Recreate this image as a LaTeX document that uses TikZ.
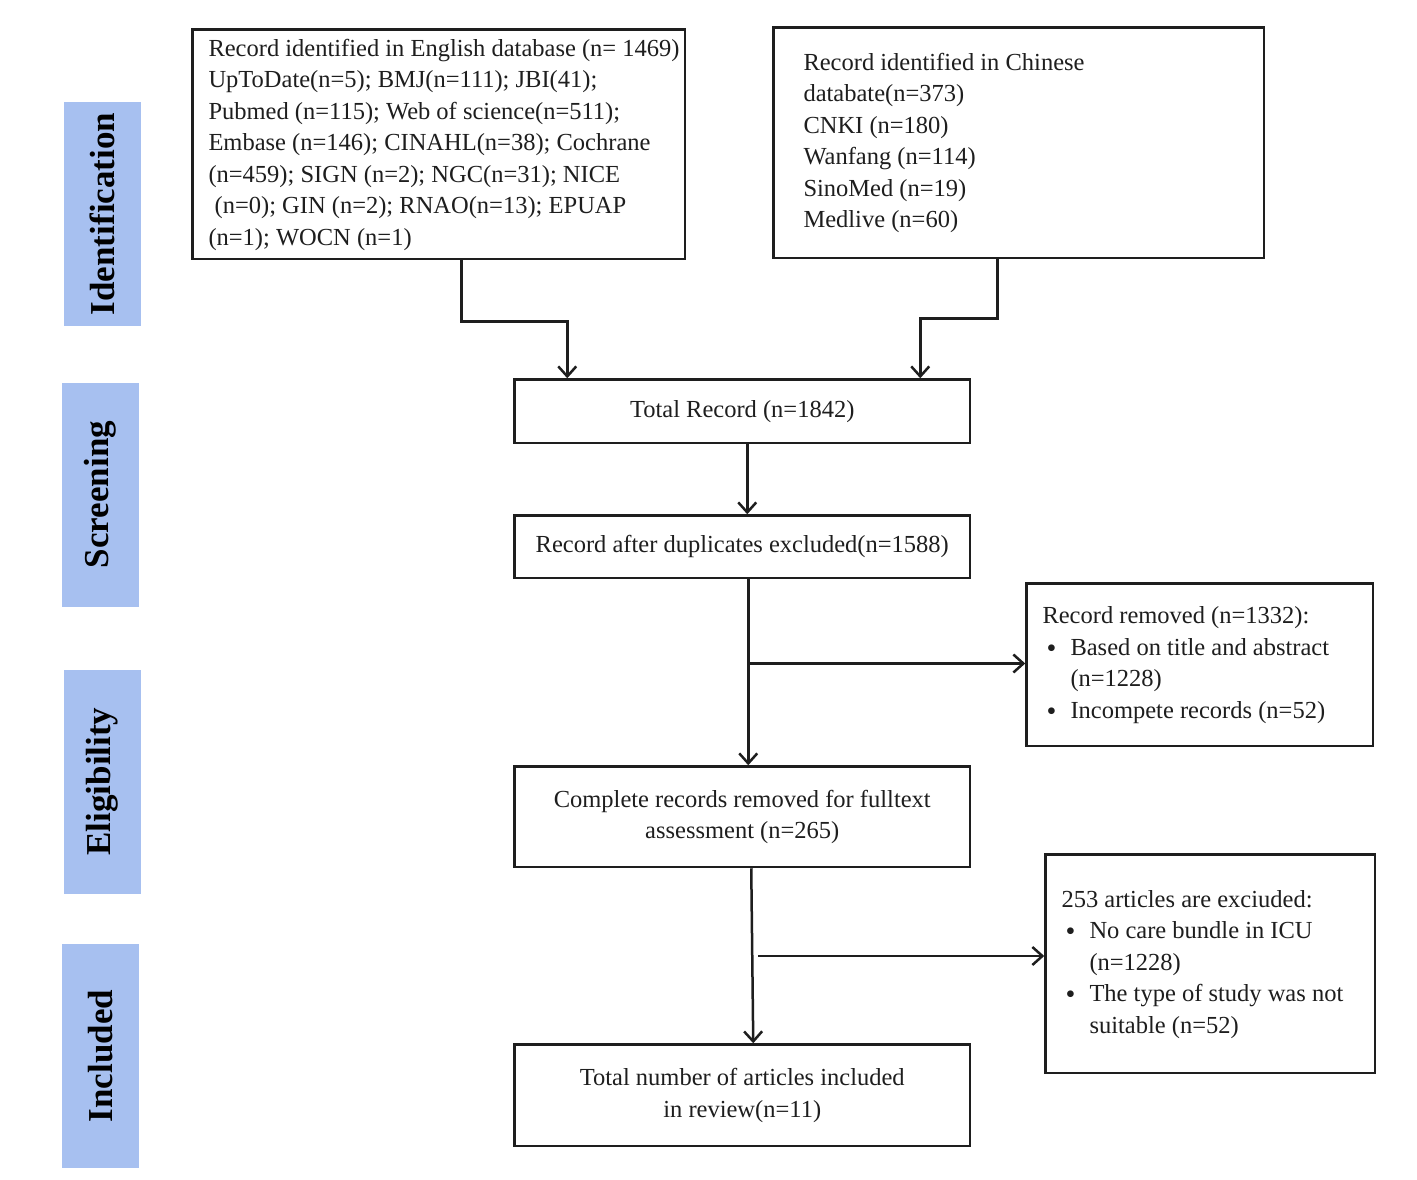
\documentclass[tikz,border=0pt]{standalone}
\usepackage{fontspec}
\setmainfont{Liberation Serif}
\usetikzlibrary{arrows.meta}
\newcommand\fs{\fontsize{24.5}{31.5}\selectfont}
\newcommand\lbox[2]{\makebox[#1][l]{\begin{tabular}{@{}l@{}}#2\end{tabular}}}
\newcommand\bul{\hspace*{4pt}\makebox[24pt][l]{\raisebox{-2pt}{\fontsize{28}{28}\selectfont\textbullet}}}
\newcommand\ind{\hspace*{28pt}}
\definecolor{sideblue}{RGB}{167,192,240}
\definecolor{ink}{RGB}{30,30,30}
\begin{document}
\begin{tikzpicture}[x=1pt,y=-1pt,
  box/.style={draw=ink, line width=2.5pt, fill=white, inner ysep=0pt, inner xsep=16pt,
    anchor=north west, font=\fs, text=ink},
  cbox/.style={box, align=center, minimum width=455.5pt},
  side/.style={fill=sideblue, rotate=90, minimum width=224pt, minimum height=77pt,
    inner sep=0pt, font=\fontsize{35}{40}\selectfont\bfseries, text=black},
  arr/.style={draw=ink, line width=2.5pt, -{Straight Barb[length=10pt,width=18pt,line width=2.5pt]}}]
\useasboundingbox (0,0) rectangle (1417,1180);
\fill[white] (0,0) rectangle (1417,1180);

% side labels
\node[side] (sid) at (102.5,214) {Identification};
\node[side] (sscr) at (100.5,494.5) {Screening};
\node[side] (selig) at (102.5,781.5) {Eligibility};
\node[side] (sinc) at (100.5,1056) {Included};

% boxes
\node[box, minimum width=492.5pt, minimum height=229.5pt] (eng) at (191.25,28.25) {\lbox{460.5pt}{%
Record identified in English database (n= 1469)\\
UpToDate(n=5); BMJ(n=111); JBI(41);\\
Pubmed (n=115); Web of science(n=511);\\
Embase (n=146); CINAHL(n=38); Cochrane\\
(n=459); SIGN (n=2); NGC(n=31); NICE\\
\ (n=0); GIN (n=2); RNAO(n=13); EPUAP\\
(n=1); WOCN (n=1)}};

\node[box, inner xsep=30pt, minimum width=490.5pt, minimum height=230.5pt] (chi) at (772.25,26.25) {\lbox{430.5pt}{%
Record identified in Chinese\\
databate(n=373)\\
CNKI (n=180)\\
Wanfang (n=114)\\
SinoMed (n=19)\\
Medlive (n=60)}};

\node[cbox, minimum height=63.5pt] (tot) at (513.25,378.25) {Total Record (n=1842)};
\node[cbox, minimum height=62.5pt] (dup) at (513.25,514.25) {Record after duplicates excluded(n=1588)};

\node[box, minimum width=346.5pt, minimum height=162.5pt] (rem) at (1025.25,582.25) {\lbox{314.5pt}{%
Record removed (n=1332):\\
\bul Based on title and abstract\\
\ind (n=1228)\\
\bul Incompete records (n=52)}};

\node[cbox, minimum height=100.5pt] (comp) at (513.25,765.25) {Complete records removed for fulltext\\ assessment (n=265)};

\node[box, minimum width=329.5pt, minimum height=218.5pt] (exc) at (1044.25,853.25) {\lbox{297.5pt}{%
253 articles are exciuded:\\
\bul No care bundle in ICU\\
\ind (n=1228)\\
\bul The type of study was not\\
\ind suitable (n=52)}};

\node[cbox, minimum height=101.5pt] (inc) at (513.25,1043.25) {Total number of articles included\\ in review(n=11)};

% connectors
\draw[arr] ([xshift=22.5pt]eng.south) -- ++(0,61) -| ([xshift=-175pt]tot.north);
\draw[arr] ([xshift=-21.5pt]chi.south) -- ++(0,59) -| ([xshift=178pt]tot.north);
\draw[arr] ([xshift=5pt]tot.south) -- ([xshift=5pt]dup.north);
\draw[arr] ([xshift=6pt]dup.south) -- ([xshift=6pt]comp.north);
\coordinate (b1) at (747,663.5);
\draw[arr] (b1) -- (b1 -| rem.west);
\draw[arr] ([xshift=9pt]comp.south) -- ([xshift=11pt]inc.north);
\coordinate (b2) at (758,956);
\draw[arr] (b2) -- (b2 -| exc.west);
\end{tikzpicture}
\end{document}
